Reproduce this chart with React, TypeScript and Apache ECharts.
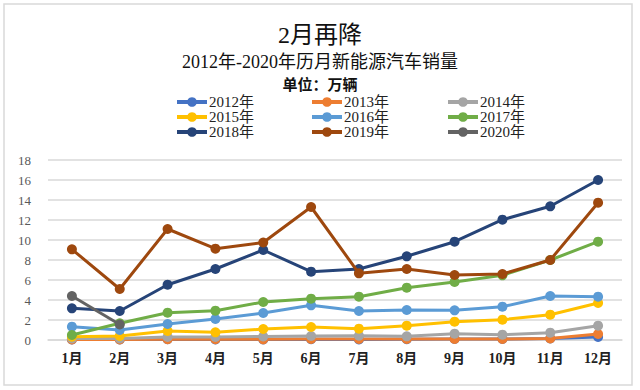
import React, { useEffect, useRef } from "react";
import * as echarts from "echarts";

const months = ["1月", "2月", "3月", "4月", "5月", "6月", "7月", "8月", "9月", "10月", "11月", "12月"];
const seriesNames = ["2012年", "2013年", "2014年", "2015年", "2016年", "2017年", "2018年", "2019年", "2020年"];
const seriesColors = ["#4472C4", "#ED7D31", "#A5A5A5", "#FFC000", "#5B9BD5", "#70AD47", "#264478", "#9E480E", "#636363"];

const s2012 = [0.05, 0.05, 0.08, 0.06, 0.06, 0.08, 0.06, 0.08, 0.1, 0.1, 0.15, 0.3];
const s2013 = [0.05, 0.06, 0.08, 0.08, 0.07, 0.1, 0.1, 0.1, 0.1, 0.1, 0.15, 0.6];
const s2014 = [0.15, 0.15, 0.3, 0.3, 0.35, 0.4, 0.43, 0.37, 0.63, 0.53, 0.73, 1.43];
const s2015 = [0.33, 0.4, 0.9, 0.77, 1.1, 1.3, 1.13, 1.43, 1.83, 2.03, 2.53, 3.7];
const s2016 = [1.33, 1.0, 1.6, 2.1, 2.7, 3.47, 2.9, 3.0, 2.97, 3.33, 4.4, 4.33];
const s2017 = [0.5, 1.67, 2.73, 2.93, 3.8, 4.13, 4.33, 5.23, 5.8, 6.47, 8.0, 9.83];
const s2018 = [3.17, 2.9, 5.53, 7.1, 9.0, 6.83, 7.1, 8.37, 9.83, 12.03, 13.37, 16.0];
const s2019 = [9.07, 5.1, 11.1, 9.13, 9.75, 13.3, 6.67, 7.1, 6.5, 6.6, 8.0, 13.73];
const s2020 = [4.4, 1.55, null, null, null, null, null, null, null, null, null, null];

const allSeries = [s2012, s2013, s2014, s2015, s2016, s2017, s2018, s2019, s2020];

const yTicks = { min: 0, max: 18, interval: 2 };

const titleText = "2月再降";
const subtitleText = "2012年-2020年历月新能源汽车销量";
const unitText = "单位：万辆";

const serif = "'Liberation Serif', 'DejaVu Serif', 'Noto Sans CJK SC', serif";

export default function App() {
  const ref = useRef<HTMLDivElement>(null);
  useEffect(() => {
    if (!ref.current) return;
    const chart = echarts.init(ref.current, null, { renderer: "svg" });
    const legendCols = [0, 1, 2].map((c) => ({
      orient: "vertical",
      left: [175, 310, 446][c],
      top: 94,
      padding: 0,
      itemWidth: 30,
      itemHeight: 12,
      itemGap: -1,
      lineStyle: { width: 4 },
      data: [seriesNames[c], seriesNames[c + 3], seriesNames[c + 6]],
      textStyle: { fontFamily: serif, fontSize: 15, lineHeight: 16, color: "#222", padding: [0, 0, 0, -3] },
    }));
    chart.setOption({
      animation: false,
      backgroundColor: "#fff",
      title: [
        { text: titleText, left: "center", top: 23, padding: 0, textStyle: { fontFamily: serif, fontSize: 24, fontWeight: "normal", color: "#111" } },
        { text: subtitleText, left: "center", top: 53, padding: 0, textStyle: { fontFamily: serif, fontSize: 18, fontWeight: "normal", color: "#111" } },
        { text: unitText, left: "center", top: 76, padding: 0, textStyle: { fontFamily: serif, fontSize: 15, lineHeight: 17, fontWeight: "bold", color: "#111" } },
      ],
      legend: legendCols,
      graphic: [
        {
          type: "rect",
          shape: { x: 4, y: 4, width: 628, height: 381 },
          style: { fill: "none", stroke: "#d9d9d9", lineWidth: 1.5 },
          silent: true,
        },
      ],
      grid: { left: 48, right: 18, top: 160, bottom: 50, containLabel: false },
      xAxis: {
        type: "category",
        data: months,
        boundaryGap: true,
        axisLine: { show: true, lineStyle: { color: "#d9d9d9", width: 1.5 } },
        axisTick: { show: false },
        axisLabel: { fontFamily: serif, fontSize: 14, fontWeight: "bold", color: "#222", margin: 11 },
      },
      yAxis: {
        type: "value",
        min: yTicks.min,
        max: yTicks.max,
        interval: yTicks.interval,
        axisLine: { show: false },
        axisTick: { show: false },
        axisLabel: { fontFamily: serif, fontSize: 13, color: "#595959", margin: 17 },
        splitLine: { lineStyle: { color: "#d9d9d9", width: 1.5 } },
      },
      series: seriesNames.map((name, i) => ({
        name,
        type: "line",
        data: allSeries[i],
        symbol: "circle",
        symbolSize: 10,
        connectNulls: false,
        itemStyle: { color: seriesColors[i] },
        lineStyle: { color: seriesColors[i], width: 3 },
        z: 2 + i,
      })),
    });
    return () => chart.dispose();
  }, []);
  return (
    <div
      ref={ref}
      style={{ position: "fixed", left: 0, top: 0, width: 640, height: 390 }}
    />
  );
}
